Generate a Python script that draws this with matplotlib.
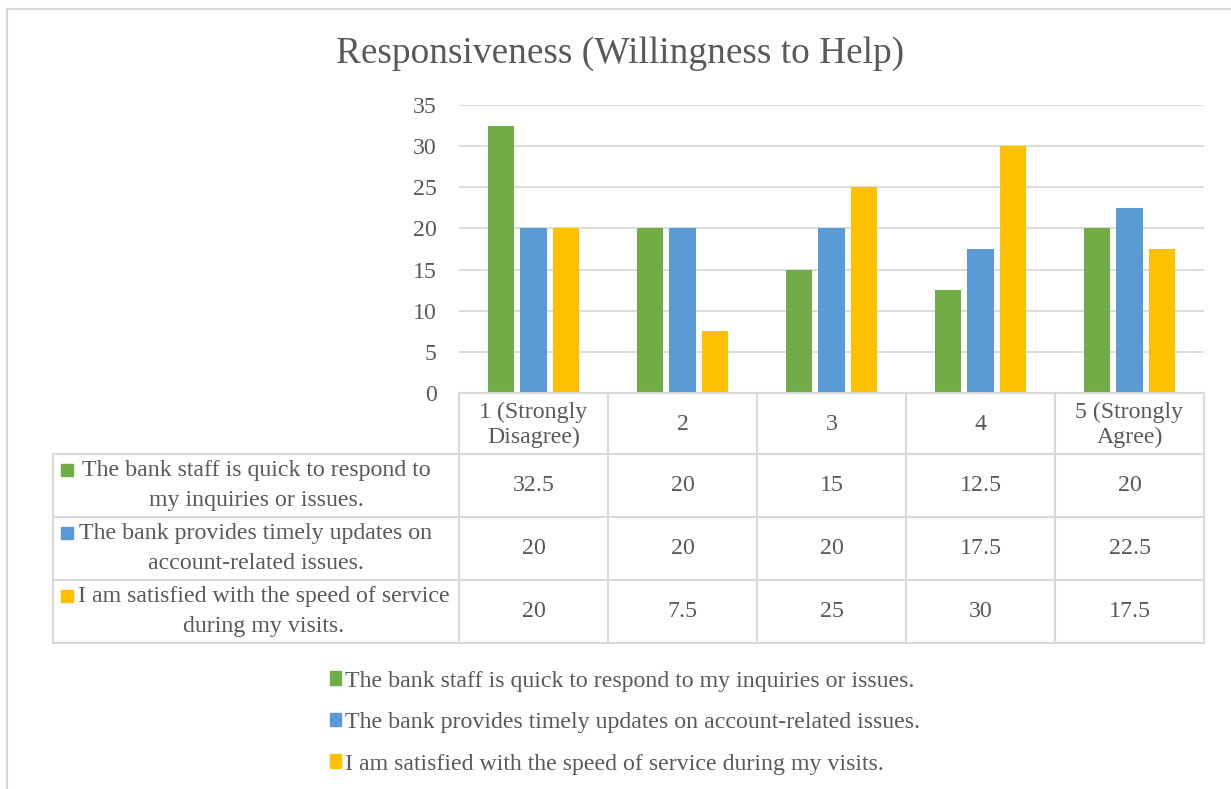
import numpy as np
import matplotlib.pyplot as plt
import matplotlib.transforms as mtransforms
from matplotlib.lines import Line2D
from matplotlib.patches import Rectangle, Patch

plt.rcParams['font.family'] = ['Liberation Serif', 'DejaVu Serif']

categories = ["1 (Strongly\nDisagree)", "2", "3", "4", "5 (Strongly\nAgree)"]
series_names = [
    "The bank staff is quick to respond to my inquiries or issues.",
    "The bank provides timely updates on account-related issues.",
    "I am satisfied with the speed of service during my visits.",
]
# same names, wrapped for the data table row headers
row_headers = [
    ("The bank staff is quick to respond to", "my inquiries or issues."),
    ("The bank provides timely updates on", "account-related issues."),
    ("I am satisfied with the speed of service", "during my visits."),
]
staff_quick = [32.5, 20, 15, 12.5, 20]
timely_updates = [20, 20, 20, 17.5, 22.5]
speed_satisfied = [20, 7.5, 25, 30, 17.5]
colors = ["#70AD47", "#5B9BD5", "#FFC000"]

TEXT = "#595959"
GRID = "#d9d9d9"
FS = 17.2
W, H = 1231, 789


def fx(x):
    return x / W


def fy(y):
    return 1 - y / H


fig = plt.figure(figsize=(W / 100, H / 100), dpi=100)
ax = fig.add_axes([fx(459), fy(393), fx(1204) - fx(459), fy(105) - fy(393)])

series = [staff_quick, timely_updates, speed_satisfied]
x = np.arange(len(categories)) + 0.5
width = 0.175
offsets = [-0.221, 0, 0.221]
for vals, off, c in zip(series, offsets, colors):
    ax.bar(x + off, vals, width, color=c, zorder=3)

ax.set_xlim(0, len(categories))
ax.set_ylim(0, 35)
ax.set_yticks(range(0, 36, 5))
ax.set_xticks([])
ax.yaxis.grid(True, color=GRID, lw=1.3)
ax.set_axisbelow(True)
for s in ax.spines.values():
    s.set_visible(False)
ax.tick_params(axis='y', length=0, pad=16, labelsize=FS, labelcolor=TEXT)

fig.text(fx(620), fy(54), "Responsiveness (Willingness to Help)",
         ha='center', va='center', fontsize=26.9, color=TEXT)

# data table under the plot
trans = mtransforms.blended_transform_factory(ax.transData, fig.transFigure)
row_edges = [454, 517, 580, 643]
line_kw = dict(color=GRID, lw=1.5)

fig.add_artist(Line2D([0, len(categories)], [fy(393)] * 2, transform=trans, **line_kw))
for y in row_edges:
    fig.add_artist(Line2D([fx(53), fx(1204)], [fy(y)] * 2, transform=fig.transFigure, **line_kw))
fig.add_artist(Line2D([fx(53)] * 2, [fy(454), fy(643)], transform=fig.transFigure, **line_kw))
for i in range(len(categories) + 1):
    fig.add_artist(Line2D([i, i], [fy(393), fy(643)], transform=trans, **line_kw))

for i, cat in enumerate(categories):
    fig.text(i + 0.5, fy(425), cat, transform=trans, ha='center', va='center',
             fontsize=FS, color=TEXT, linespacing=1.22)

row_centers = [(a + b) / 2 for a, b in zip(row_edges[:-1], row_edges[1:])]
for vals, yc in zip(series, row_centers):
    for i, v in enumerate(vals):
        fig.text(i + 0.5, fy(yc), f"{v:g}", transform=trans, ha='center', va='center',
                 fontsize=FS, color=TEXT)

# row headers: key square at the left, text centred but kept clear of the square
renderer = fig.canvas.get_renderer()
cell_cx = (53 + 459) / 2
key_x, key_size, min_text_x = 61, 12, 78
for (first, second), c, yc in zip(row_headers, colors, row_centers):
    t1 = fig.text(fx(cell_cx), fy(yc - 15), first, ha='center', va='center',
                  fontsize=FS, color=TEXT)
    t2 = fig.text(fx(cell_cx), fy(yc + 15), second, ha='center', va='center',
                  fontsize=FS, color=TEXT)
    w1 = t1.get_window_extent(renderer).width
    cx = max(cell_cx, min_text_x + w1 / 2)
    t1.set_x(fx(cx))
    t2.set_x(fx(cx))
    fig.add_artist(Rectangle((fx(key_x), fy(yc - 15) - 5 / H), fx(key_size), key_size / H,
                             transform=fig.transFigure, color=c))

handles = [Patch(color=c, label=n) for c, n in zip(colors, series_names)]
fig.legend(handles=handles, loc='upper left', bbox_to_anchor=(fx(320), fy(661)),
           frameon=False, handlelength=0.5, handleheight=0.5, handletextpad=0.15,
           labelspacing=0.86, fontsize=FS, labelcolor=TEXT, borderaxespad=0)

# chart area border
fig.add_artist(Line2D([fx(7), fx(7)], [fy(9), 0], transform=fig.transFigure, color=GRID, lw=1.5))
fig.add_artist(Line2D([fx(7), 1], [fy(9), fy(9)], transform=fig.transFigure, color=GRID, lw=1.5))

fig.savefig("out.png", dpi=100)
